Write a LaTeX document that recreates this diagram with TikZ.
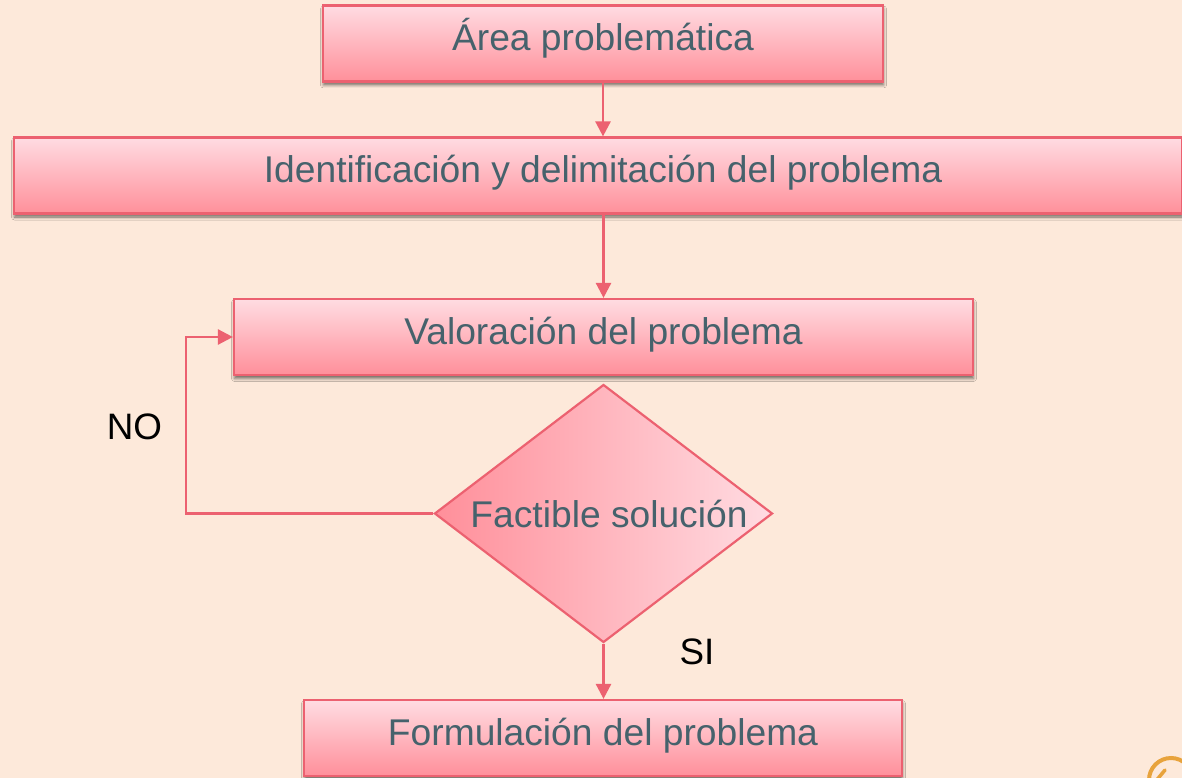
\documentclass[tikz,border=0pt]{standalone}
\usepackage{fontspec}
\setmainfont{Liberation Sans}
\usetikzlibrary{shapes.geometric,arrows.meta,shadows.blur}
\definecolor{bgc}{HTML}{FDE9DA}
\definecolor{edgec}{HTML}{EC6170}
\definecolor{topc}{HTML}{FFDCE2}
\definecolor{botc}{HTML}{FF8F9A}
\definecolor{txtc}{HTML}{46626C}
\definecolor{orangec}{HTML}{E8A33C}
\tikzset{
  x=1pt,y=-1pt,
  procbox/.style={rectangle,draw=edgec,line width=2.2pt,top color=topc,bottom color=botc,
    minimum height=76pt,inner sep=0pt,text=txtc,font=\fontsize{37.2}{44}\selectfont,
    text height=26pt,text depth=12pt,
    blur shadow={shadow xshift=0.5pt,shadow yshift=-3.5pt,shadow blur radius=3pt,shadow opacity=55}},
  decbox/.style={diamond,draw=edgec,line width=2.2pt,left color=botc,right color=topc,
    minimum width=338pt,minimum height=258pt,inner sep=0pt,aspect=1.31},
  link/.style={draw=edgec,line width=2.6pt,-{Triangle[length=15pt,width=15pt]}},
  tag/.style={font=\fontsize{36.8}{44}\selectfont,text=black,inner sep=0pt},
  dectext/.style={text=txtc,font=\fontsize{37.2}{44}\selectfont,inner sep=0pt}
}
\begin{document}
\begin{tikzpicture}
\path[use as bounding box,fill=bgc] (0,0) rectangle (1182,778);
\clip (0,0) rectangle (1182,778);
\node[procbox,minimum width=560pt] (a) at (603,43.5) {Área problemática};
\node[procbox,minimum width=1168pt] (b) at (598,175.5) {\hspace*{10pt}Identificación y delimitación del problema};
\node[procbox,minimum width=739pt] (c) at (603.5,337) {Valoración del problema};
\node[decbox] (d) at (603.5,513.5) {};
\node[dectext] (dt) at (609,514) {Factible solución};
\node[procbox,minimum width=598pt] (e) at (603,738) {Formulación del problema};
\coordinate (loop) at (186,0);
\draw[link] (a.south) -- (a.south |- b.north);
\draw[link] (c.north |- b.south) -- (c.north);
\draw[link] (d.west) -- (loop |- d.west) -- (loop |- c.west) -- (c.west);
\draw[link] (d.south) -- (d.south |- e.north);
\node[tag] (no) at (134.5,427) {NO};
\node[tag] (si) at (697,652) {SI};
\draw[orangec,line width=4pt] (1171,780) circle (22);
\draw[orangec,line width=3.5pt,line cap=round] (1165,770) -- (1155,782);
\end{tikzpicture}
\end{document}
